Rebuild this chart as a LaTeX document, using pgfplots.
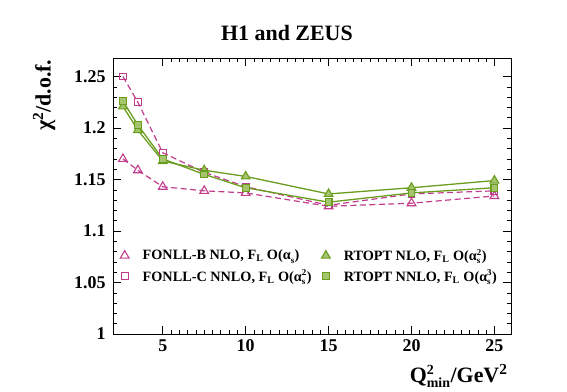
\documentclass[border=0pt]{standalone}
\usepackage{fontspec}
\setmainfont{Liberation Serif}
\usepackage{pgfplots}
\pgfplotsset{compat=1.18}
\definecolor{mag}{RGB}{192,60,140}
\definecolor{grn}{RGB}{106,156,30}
\definecolor{grnfill}{RGB}{165,196,110}
\newcommand{\sml}[1]{\mbox{\fontsize{9}{9}\selectfont\bfseries #1}}
\newcommand{\aS}[1]{$\mbox{α}^{\sml{#1}}_{\sml{s}}$}
\begin{document}
\begin{tikzpicture}
\useasboundingbox (-113bp,-58bp) rectangle (454bp,334bp);
\begin{axis}[
  at={(0,0)}, anchor=south west,
  scale only axis, width=398bp, height=276bp,
  xmin=2, xmax=26, ymin=1, ymax=1.268,
  xtick={5,10,15,20,25}, minor x tick num=9,
  ytick={1,1.05,1.1,1.15,1.2,1.25},
  yticklabels={1,1.05,1.1,1.15,1.2,1.25},
  minor y tick num=4,
  major tick length=8bp, minor tick length=4bp,
  tick style={black, line width=0.6pt},
  axis line style={line width=0.8pt},
  /pgf/number format/assume math mode=true,
  ticklabel style={font=\fontsize{18}{20}\selectfont\bfseries},
  xticklabel style={yshift=-2bp},
  yticklabel style={xshift=-4bp},
  title={H1 and ZEUS},
  title style={at={(axis description cs:0.437,1.043)}, anchor=base, font=\fontsize{22}{24}\selectfont\bfseries},
  xlabel={Q$^{\mbox{\fontsize{14}{14}\selectfont\bfseries 2}}_{\mbox{\fontsize{14}{14}\selectfont\bfseries min}}$/GeV\textsuperscript{2}},
  every axis x label/.style={at={(axis description cs:1.0,-0.174)}, anchor=base east, font=\fontsize{22}{24}\selectfont\bfseries},
  ylabel={χ\textsuperscript{2}/d.o.f.},
  every axis y label/.style={at={(axis description cs:-0.157,1.007)}, rotate=90, anchor=base east, font=\fontsize{22}{24}\selectfont\bfseries},
  legend columns=2, transpose legend,
  legend image code/.code={\path[draw=none, fill=none] (-4bp,0bp) -- (16bp,0bp); \draw[#1, only marks] plot coordinates {(0bp,0bp)};},
  legend style={draw=none, fill=none, at={(axis description cs:0.018,0.315)}, anchor=north west,
    legend cell align=left, font=\fontsize{14.3}{16}\selectfont\bfseries,
    /tikz/every even column/.append style={column sep=8bp},
    row sep=4bp, inner sep=0pt},
]
\addplot[mag, dashed, dash pattern=on 6bp off 3.5bp, line width=1.2pt, mark=triangle, mark size=5bp, mark options={solid, line width=1.1pt}]
 coordinates {(2.6,1.170) (3.5,1.159) (5,1.143) (7.5,1.139) (10,1.137) (15,1.124) (20,1.127) (25,1.134)};
\addlegendentry{FONLL-B NLO, F\textsubscript{L} O(\aS{})}
\addplot[mag, dashed, dash pattern=on 6bp off 3.5bp, line width=1.2pt, mark=square, mark size=3.4bp, mark options={solid, line width=1.1pt}]
 coordinates {(2.6,1.250) (3.5,1.225) (5,1.176) (7.5,1.157) (10,1.143) (15,1.125) (20,1.136) (25,1.139)};
\addlegendentry{FONLL-C NNLO, F\textsubscript{L} O(\aS{2})}
\addplot[grn, line width=1.3pt, mark=triangle*, mark size=5bp, mark options={solid, fill=grnfill, draw=grn, line width=1.1pt}]
 coordinates {(2.6,1.221) (3.5,1.198) (5,1.168) (7.5,1.159) (10,1.153) (15,1.136) (20,1.142) (25,1.149)};
\addlegendentry{RTOPT NLO, F\textsubscript{L} O(\aS{2})}
\addplot[grn, line width=1.3pt, mark=square*, mark size=3.4bp, mark options={solid, fill=grnfill, draw=grn, line width=1.1pt}]
 coordinates {(2.6,1.226) (3.5,1.203) (5,1.170) (7.5,1.155) (10,1.142) (15,1.128) (20,1.137) (25,1.142)};
\addlegendentry{RTOPT NNLO, F\textsubscript{L} O(\aS{3})}
\end{axis}
\end{tikzpicture}
\end{document}
